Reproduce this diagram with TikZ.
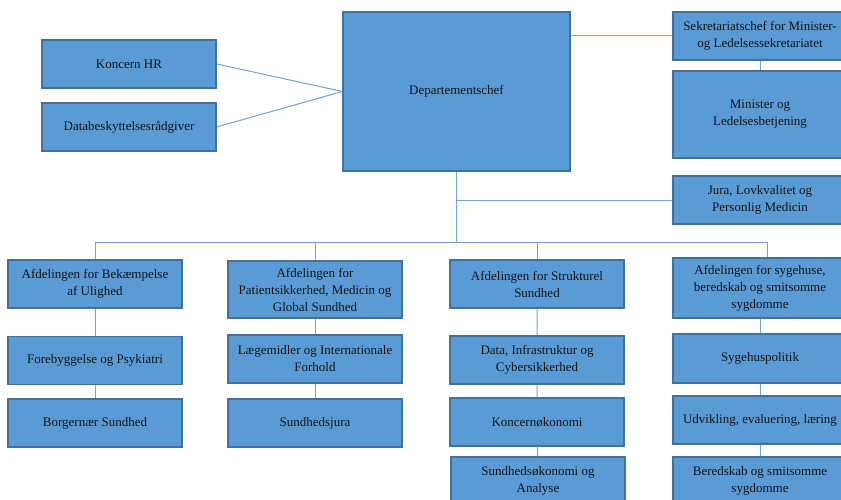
\documentclass[tikz,border=0pt]{standalone}
\usepackage{fontspec}
\setmainfont{Liberation Serif}
\begin{document}
\definecolor{boxfill}{HTML}{5B9BD5}
\definecolor{boxedge}{HTML}{41719C}
\definecolor{linkcol}{HTML}{6AA5DA}
\definecolor{txt}{HTML}{141414}
\begin{tikzpicture}[x=1pt,y=-1pt,
  orgbox/.style={draw=boxedge, fill=boxfill, line width=1.3pt, align=center,
    text=txt, inner sep=2pt, font=\fontsize{13}{17}\selectfont,
    minimum width=174pt, minimum height=48pt},
  link/.style={draw=linkcol, line width=1pt}]
\useasboundingbox (0,0) rectangle (841,500);
\fill[white] (0,0) rectangle (841,500);

% top level
\node[orgbox] (hr)  at (129,64)   {Koncern HR};
\node[orgbox] (dpo) at (129,127)  {Databeskyttelsesrådgiver};
\node[orgbox, minimum width=227pt, minimum height=159pt] (dep) at (456.5,91.5) {Departementschef};
\node[orgbox] (sek) at (760,36)   {Sekretariatschef for Minister-\\og Ledelsessekretariatet};
\node[orgbox, minimum height=87pt] (min) at (760,114.5) {Minister og\\Ledelsesbetjening};
\node[orgbox] (jura) at (760,200) {Jura, Lovkvalitet og\\Personlig Medicin};

% departments
\node[orgbox] (a1) at (95,284)   {Afdelingen for Bekæmpelse\\af Ulighed};
\node[orgbox] (a2) at (95,360.5) {Forebyggelse og Psykiatri};
\node[orgbox] (a3) at (95,423)   {Borgernær Sundhed};

\node[orgbox, minimum height=57pt] (b1) at (315,289.5) {Afdelingen for\\Patientsikkerhed, Medicin og\\Global Sundhed};
\node[orgbox] (b2) at (315,359) {Lægemidler og Internationale\\Forhold};
\node[orgbox] (b3) at (315,423) {Sundhedsjura};

\node[orgbox] (c1) at (537,284) {Afdelingen for Strukturel\\Sundhed};
\node[orgbox] (c2) at (537,360) {Data, Infrastruktur og\\Cybersikkerhed};
\node[orgbox] (c3) at (537,422) {Koncernøkonomi};
\node[orgbox] (c4) at (538,481) {Sundhedsøkonomi og\\Analyse};

\node[orgbox, minimum height=60pt] (d1) at (760,288) {Afdelingen for sygehuse,\\beredskab og smitsomme\\sygdomme};
\node[orgbox, minimum height=49pt] (d2) at (760,358.5) {Sygehuspolitik};
\node[orgbox] (d3) at (760,420) {Udvikling, evaluering, læring};
\node[orgbox] (d4) at (760,481) {Beredskab og smitsomme\\sygdomme};

% connectors
\coordinate (bus) at (456.5,242);
\coordinate (busend) at (767,242);
\draw[link] (hr.east) -- (dep.west);
\draw[link] (dpo.east) -- (dep.west);
\draw[link] (sek.west -| dep.east) -- (sek.west);
\draw[link] (sek.south) -- (min.north);
\draw[link] (dep.south) -- (bus);
\draw[link] (jura.west -| dep.south) -- (jura.west);
\draw[link] (a1.north |- bus) -- (busend);
\draw[link] (a1.north |- bus) -- (a1.north);
\draw[link] (b1.north |- bus) -- (b1.north);
\draw[link] (c1.north |- bus) -- (c1.north);
\draw[link] (busend) -- (busend |- d1.north);
\draw[link] (a1) -- (a2) (a2) -- (a3);
\draw[link] (b1) -- (b2) (b2) -- (b3);
\draw[link] (c1) -- (c2) (c2) -- (c3) (c3) -- (c4);
\draw[link] (d1) -- (d2) (d2) -- (d3) (d3) -- (d4);
\end{tikzpicture}
\end{document}
